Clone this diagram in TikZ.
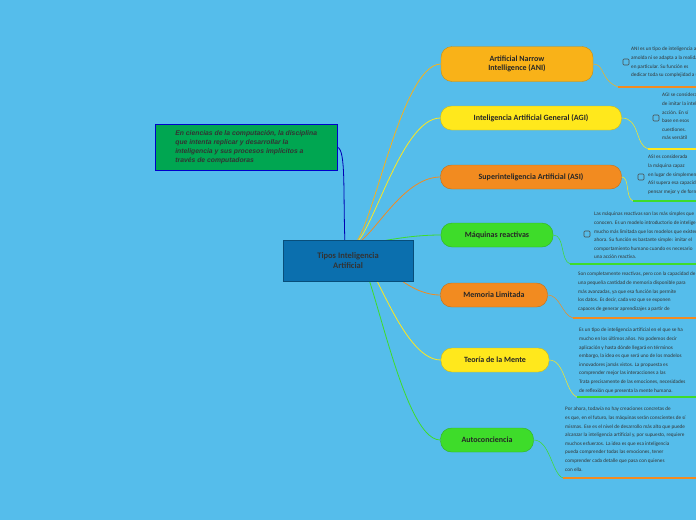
\documentclass[tikz,border=0pt]{standalone}
\usepackage{fontspec}
\setmainfont{Carlito}
\newfontfamily\notefont{Liberation Sans}
\usetikzlibrary{backgrounds}
\definecolor{bgblue}{HTML}{55BDEB}
\definecolor{rootblue}{HTML}{0B6FAE}
\definecolor{gold}{HTML}{F9B218}
\definecolor{yel}{HTML}{FFE81C}
\definecolor{orng}{HTML}{F28B20}
\definecolor{grn}{HTML}{3EDC2A}
\definecolor{notegreen}{HTML}{00A651}
\begin{document}
\begin{tikzpicture}[x=1pt,y=-1pt,
  branch/.style={draw=#1!80!black,fill=#1,rounded corners=11pt,minimum height=24pt,font=\bfseries\fontsize{8}{9}\selectfont,text=black!85,align=center,inner xsep=10pt},
  link/.style={#1,line width=0.8pt},
  info/.style={anchor=north west,align=left,font=\fontsize{5.2}{8.6}\selectfont,text=black!80,inner sep=0pt},
  tick/.style={draw=black!70,rounded corners=1pt,minimum size=6pt,inner sep=0pt,line width=0.6pt},
  uline/.style={#1,line width=1.6pt}]
\clip (0,0) rectangle (696,520);

% root and side note
\node[draw=rootblue!70!black,fill=rootblue,minimum width=130pt,minimum height=41pt,align=center,font=\bfseries\fontsize{8.5}{10}\selectfont,text=black!80] (root) at (348,261) {Tipos Inteligencia\\Artificial};
\node[draw=blue!80!black,fill=notegreen,minimum width=182pt,minimum height=46pt,anchor=north west,align=left,inner xsep=3pt,inner ysep=4pt,font=\notefont\bfseries\itshape\fontsize{6.8}{9}\selectfont,text=black!80] (note) at (155,124) {En ciencias de la computación, la disciplina\\que intenta replicar y desarrollar la\\inteligencia y sus procesos implícitos a\\través de computadoras\hspace*{60pt}};

% branches
\node[branch=gold,minimum width=152pt,minimum height=35pt] (ani) at (517,64) {Artificial Narrow\\Intelligence (ANI)};
\node[branch=yel,minimum width=181pt] (agi) at (531,118) {Inteligencia Artificial General (AGI)};
\node[branch=orng,minimum width=181pt] (asi) at (531,177) {Superinteligencia Artificial (ASI)};
\node[branch=grn,minimum width=112pt] (mr) at (497,235) {Máquinas reactivas};
\node[branch=orng,minimum width=107pt] (ml) at (494,295) {Memoria Limitada};
\node[branch=yel,minimum width=108pt] (tm) at (495,360) {Teoría de la Mente};
\node[branch=grn,minimum width=93pt] (ac) at (487,440) {Autoconciencia};

\begin{scope}[on background layer]
\fill[bgblue] (0,0) rectangle (696,520);
\draw[link=blue!70!black] (345,245) .. controls (343,190) and (346,150) .. (note.east);
\foreach \b/\c in {ani/gold,agi/yel,asi/orng,mr/grn,ml/orng,tm/yel,ac/grn}
  \draw[link=\c] (352,245) .. controls (370,245) and (400,0|-\b.west) .. (\b.west);
\end{scope}

% descriptions
\node[tick] (k1) at (626,62) {};
\node[info] (t1) at (631,47) {ANI es un tipo de inteligencia artificial que no\\amolda ni se adapta a la realidad, sino que\\en particular. Su función es\\dedicar toda su complejidad a una tarea};
\draw[link=gold,line width=0.5pt] (ani.east) .. controls (605,64) and (600,80) .. (618,87);
\draw[uline=orng] (618,87) -- (696,87);

\node[tick] (k2) at (656,118) {};
\node[info] (t2) at (662,93) {AGI se considera\\de imitar la inteligencia\\acción. En sí\\base en esos\\cuestiones.\\más versátil};
\draw[link=yel,line width=0.5pt] (agi.east) .. controls (640,118) and (635,145) .. (648,149);
\draw[uline=yel] (648,149) -- (696,149);

\node[tick] (k3) at (641,177) {};
\node[info] (t3) at (648,155) {ASI es considerada\\la máquina capaz\\en lugar de simplemente\\ASI supera esa capacidad\\pensar mejor y de forma};
\draw[link=yel,line width=0.5pt] (asi.east) .. controls (630,177) and (625,198) .. (633,201);
\draw[uline=grn] (633,201) -- (696,201);

\node[tick] (k4) at (587,234) {};
\node[info] (t4) at (594,212) {Las máquinas reactivas son las más simples que\\conocen. Es un modelo introductorio de inteligencia\\mucho más limitada que los modelos que existen\\ahora. Su función es bastante simple: imitar el\\comportamiento humano cuando es necesario\\una acción reactiva.};
\draw[link=grn,line width=0.5pt] (mr.east) .. controls (565,235) and (560,260) .. (570,264);
\draw[uline=grn] (570,264) -- (696,264);

\node[info] (t5) at (578,272) {Son completamente reactivas, pero con la capacidad de\\una pequeña cantidad de memoria disponible para\\más avanzadas, ya que esa función las permite\\los datos. Es decir, cada vez que se exponen\\capaces de generar aprendizajes a partir de};
\draw[link=orng,line width=0.5pt] (ml.east) .. controls (560,295) and (562,315) .. (573,318);
\draw[uline=orng] (573,318) -- (696,318);

\node[info] (t6) at (579,328) {Es un tipo de inteligencia artificial en el que se ha\\mucho en los últimos años. No podemos decir\\aplicación y hasta dónde llegará en términos\\embargo, la idea es que será uno de los modelos\\innovadores jamás vistos. La propuesta es\\comprender mejor las interacciones a las\\Trata precisamente de las emociones, necesidades\\de reflexión que presenta la mente humana.};
\draw[link=yel,line width=0.5pt] (tm.east) .. controls (565,360) and (565,392) .. (577,397);
\draw[uline=grn] (577,397) -- (696,397);

\node[info] (t7) at (565,407) {Por ahora, todavía no hay creaciones concretas de\\es que, en el futuro, las máquinas serán conscientes de sí\\mismas. Ese es el nivel de desarrollo más alto que puede\\alcanzar la inteligencia artificial y, por supuesto, requiere\\muchos esfuerzos. La idea es que esa inteligencia\\pueda comprender todas las emociones, tener\\comprender cada detalle que pasa con quienes\\con ella.};
\draw[link=grn,line width=0.5pt] (ac.east) .. controls (550,440) and (552,474) .. (563,478);
\draw[uline=orng] (563,478) -- (696,478);
\end{tikzpicture}
\end{document}
